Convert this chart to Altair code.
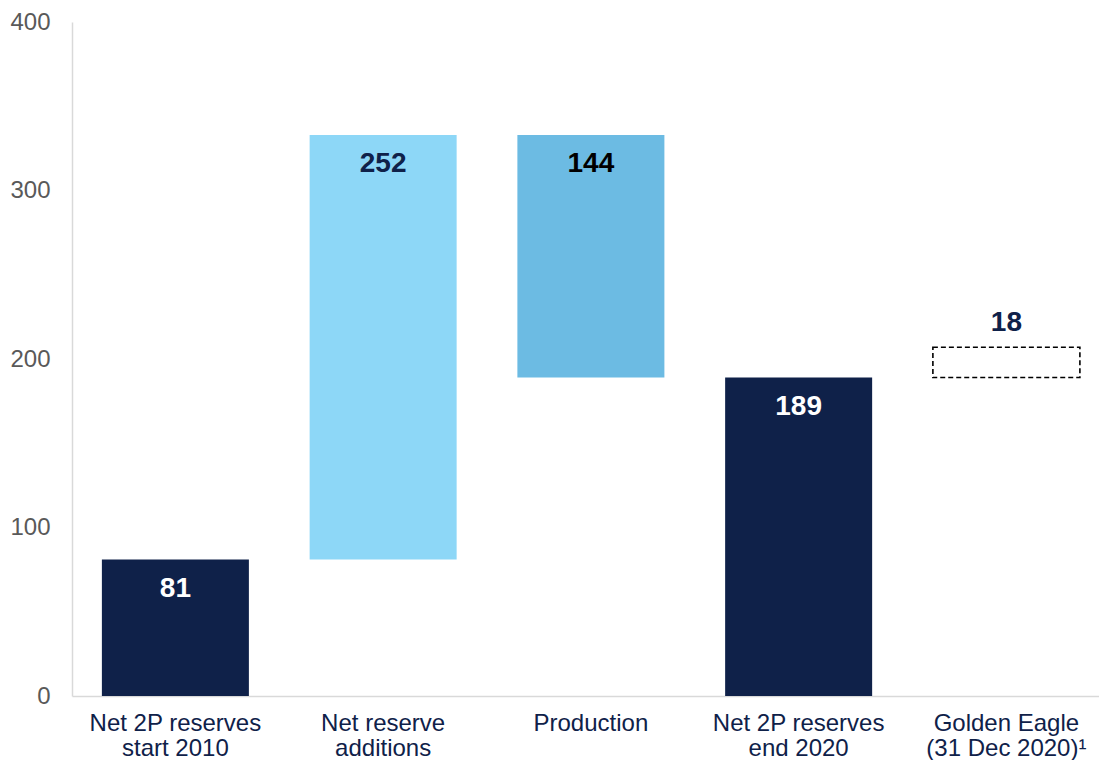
import altair as alt
import pandas as pd

categories = ["Net 2P reserves|start 2010", "Net reserve|additions", "Production",
              "Net 2P reserves|end 2020", "Golden Eagle|(31 Dec 2020)¹"]
starts = [0, 81, 333, 0, 189]
ends = [81, 333, 189, 189, 207]
values = [81, 252, 144, 189, 18]
kinds = ["total", "increase", "decrease", "total2", "pending"]

df = pd.DataFrame({
    "cat": categories,
    "start": starts,
    "end": ends,
    "value": values,
    "kind": kinds,
})
df["top"] = df[["start", "end"]].max(axis=1)

FONT = "Liberation Sans"
NAVY = "#0F2149"

x_enc = alt.X(
    "cat:N",
    sort=categories,
    title=None,
    scale=alt.Scale(paddingInner=0.2924, paddingOuter=0.1179, align=0.61),
    axis=alt.Axis(
        labelAngle=0,
        labelExpr="split(datum.label, '|')",
        labelFont=FONT,
        labelFontSize=24,
        labelColor=NAVY,
        labelLineHeight=25,
        labelPadding=15,
        ticks=False,
        domainColor="#D9D9D9",
        domainWidth=1.5,
    ),
)
y_scale = alt.Scale(domain=[0, 400], nice=False)
y_axis = alt.Axis(
    values=[0, 100, 200, 300, 400],
    labelFont=FONT,
    labelFontSize=24,
    labelColor="#595959",
    labelPadding=22,
    ticks=False,
    grid=False,
    domainColor="#D9D9D9",
    domainWidth=1.5,
    title=None,
)

base = alt.Chart(df)

bars = base.transform_filter("datum.kind != 'pending'").mark_bar().encode(
    x=x_enc,
    y=alt.Y("start:Q", scale=y_scale, axis=y_axis),
    y2="end:Q",
    color=alt.Color(
        "kind:N",
        scale=alt.Scale(domain=["total", "increase", "decrease", "total2"],
                        range=[NAVY, "#8DD7F7", "#6CBBE3", NAVY]),
        legend=None,
    ),
)

pending = base.transform_filter("datum.kind == 'pending'").mark_bar(
    filled=False, stroke="#000000", strokeWidth=1.6, strokeDash=[5, 3]
).encode(
    x=x_enc,
    y=alt.Y("start:Q", scale=y_scale, axis=y_axis),
    y2="end:Q",
)

inside_labels = base.transform_filter("datum.kind != 'pending'").mark_text(
    font=FONT, fontSize=28, fontWeight="bold", baseline="middle", dy=29
).encode(
    x=x_enc,
    y=alt.Y("top:Q", scale=y_scale),
    text="value:Q",
    color=alt.Color(
        "kind:N",
        scale=alt.Scale(domain=["total", "increase", "decrease", "total2"],
                        range=["#FFFFFF", NAVY, "#000000", "#FFFFFF"]),
        legend=None,
    ),
)

above_labels = base.transform_filter("datum.kind == 'pending'").mark_text(
    font=FONT, fontSize=28, fontWeight="bold", baseline="middle", dy=-24, color=NAVY
).encode(
    x=x_enc,
    y=alt.Y("top:Q", scale=y_scale),
    text="value:Q",
)

chart = alt.layer(bars, pending, inside_labels, above_labels).resolve_scale(
    color="independent"
).properties(
    width=1027,
    height=674,
    autosize=alt.AutoSizeParams(type="none"),
    padding={"left": 64, "top": 14, "right": 0, "bottom": 64},
    background="#FFFFFF",
).configure_view(stroke=None)

chart.save("out.html", embed_options={"renderer": "svg", "actions": False})
